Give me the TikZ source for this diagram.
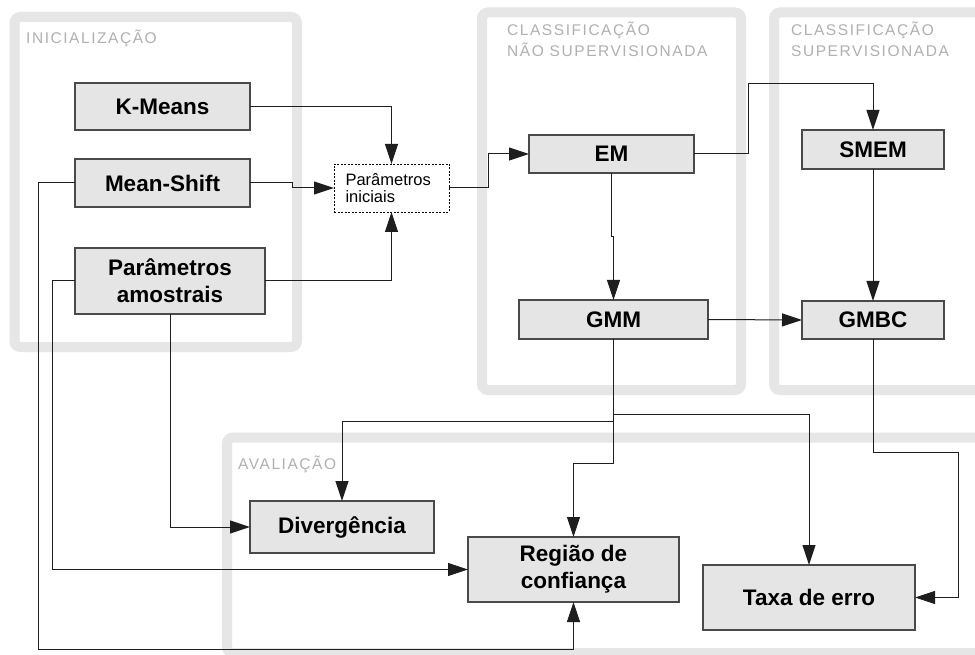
\documentclass[tikz,border=0pt]{standalone}
\usepackage{fontspec}
\setmainfont{Liberation Sans}
\newfontfamily\grpfont[LetterSpace=10]{Liberation Sans}
\usetikzlibrary{arrows.meta}
\definecolor{grpband}{HTML}{E6E6E6}
\definecolor{grptext}{HTML}{B0B0B0}
\definecolor{boxfill}{HTML}{E5E5E5}
\definecolor{boxline}{HTML}{4A4A4A}
\definecolor{connline}{HTML}{1E1E1E}
\begin{document}
\begin{tikzpicture}[x=1pt,y=-1pt,
  grp/.style={draw=grpband,line width=10pt,rounded corners=6pt},
  grplabel/.style={text=grptext,font=\grpfont\fontsize{15.5}{21}\selectfont,anchor=base west,inner sep=0pt},
  stepbox/.style={draw=boxline,fill=boxfill,line width=1.2pt,inner sep=0pt,outer sep=0pt,
    align=center,font=\bfseries\fontsize{22.5}{27}\selectfont},
  dashbox/.style={draw=black,line width=0.8pt,dash pattern=on 2pt off 1.5pt,fill=white,
    inner sep=0pt,outer sep=0pt,text width=92pt,align=left,font=\fontsize{16.5}{16.5}\selectfont},
  conn/.style={draw=connline,line width=1pt,-{Triangle[length=20pt,width=13pt]}}
]
\useasboundingbox (0,0) rectangle (975,655);
\clip (0,0) rectangle (975,655);
\fill[white] (0,0) rectangle (975,655);

% groups
\draw[grp] (14.5,17) rectangle (297,347);
\draw[grp] (482,12.5) rectangle (741,390);
\draw[grp] (774,12.5) rectangle (995,390);
\draw[grp] (227,437.5) rectangle (995,653);

\node[grplabel] (lini) at (26,44) {INICIALIZAÇÃO};
\node[grplabel] (lns1) at (507,36) {CLASSIFICAÇÃO};
\node[grplabel] (lns2) at (507,57) {NÃO SUPERVISIONADA};
\node[grplabel] (ls1) at (791,36) {CLASSIFICAÇÃO};
\node[grplabel] (ls2) at (791,57) {SUPERVISIONADA};
\node[grplabel] (lava) at (238,469) {AVALIAÇÃO};

% boxes
\node[stepbox,minimum width=175pt,minimum height=47pt] (kmeans) at (162.5,106.5) {K-Means};
\node[stepbox,minimum width=175pt,minimum height=48pt] (mshift) at (162.5,183) {Mean-Shift};
\node[stepbox,minimum width=190pt,minimum height=66pt] (pamos) at (170,281) {Parâmetros\\amostrais};
\node[dashbox,minimum width=115pt,minimum height=48pt] (pinit) at (391.5,188) {Parâmetros\\iniciais};
\node[stepbox,minimum width=165pt,minimum height=38pt] (em) at (611.5,154) {EM};
\node[stepbox,minimum width=189pt,minimum height=39pt] (gmm) at (613.5,319.5) {GMM};
\node[stepbox,minimum width=142pt,minimum height=39pt] (smem) at (873,149.5) {SMEM};
\node[stepbox,minimum width=142pt,minimum height=38pt] (gmbc) at (873,320) {GMBC};
\node[stepbox,minimum width=184pt,minimum height=52pt] (div) at (342,527) {Divergência};
\node[stepbox,minimum width=211pt,minimum height=65pt] (reg) at (573.5,569.5) {Região de\\confiança};
\node[stepbox,minimum width=212pt,minimum height=65pt] (taxa) at (809,597.5) {Taxa de erro};

% connectors
\draw[conn] (kmeans.east) -| (pinit.north);
\draw[conn] (mshift.east) -- ++(42,0) |- (pinit.west);
\draw[conn] (pamos.east) -| (pinit.south);
\draw[conn] (pinit.east) -- ++(39,0) |- (em.west);
\draw[conn] (em.east) -| (748,84) -| (smem.north);
\draw[conn] (em.south) -- ++(0,64) -| (gmm.north);
\draw[conn] (smem.south) -- (gmbc.north);
\draw[conn] (gmm.east) -- (gmbc.west);
\draw[conn] (gmm.south) -- ++(0,75) -| (taxa.north);
\draw[conn] (gmm.south) -- ++(0,82) -| (div.north);
\draw[conn] (gmm.south) -- ++(0,124) -| (reg.north);
\draw[conn] (gmbc.south) -- ++(0,113) -| ([xshift=43pt]taxa.east) -- (taxa.east);
\draw[conn] (pamos.south) |- (div.west);
\draw[conn] (pamos.west) -- ++(-23,0) |- (reg.west);
\draw[conn] (mshift.west) -- ++(-37,0) |- (reg.south |- 0,649) -- (reg.south);
\end{tikzpicture}
\end{document}
